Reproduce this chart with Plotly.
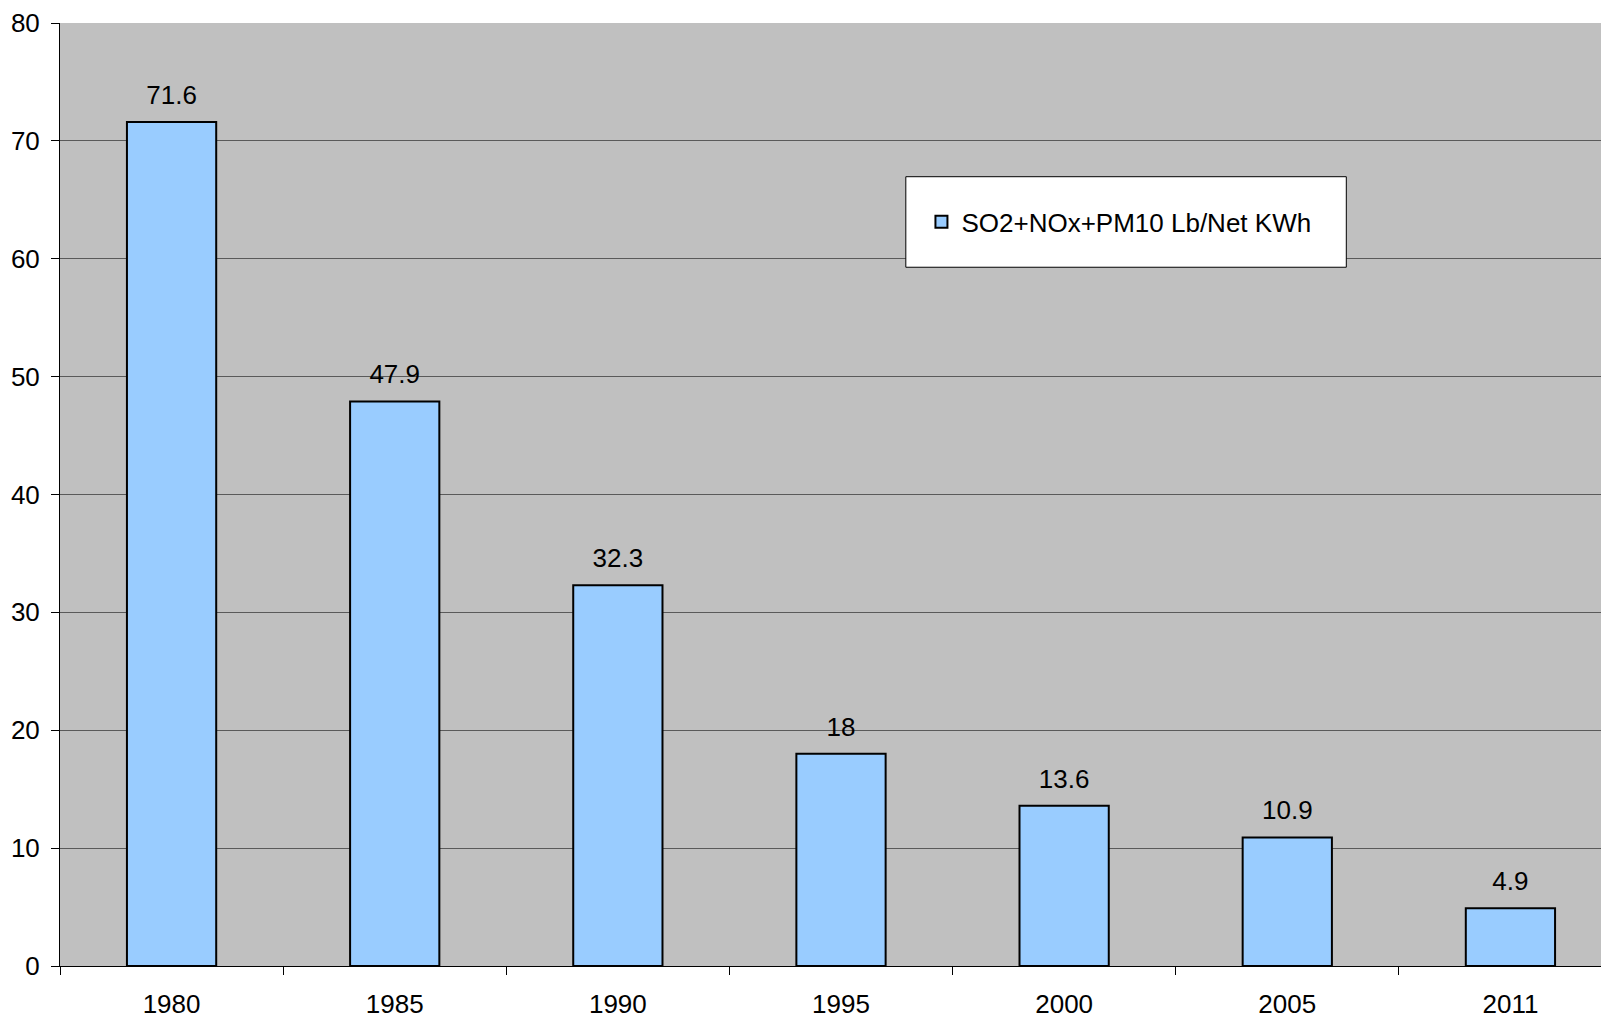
import plotly.graph_objects as go

years = ["1980", "1985", "1990", "1995", "2000", "2005", "2011"]
values = [71.6, 47.9, 32.3, 18, 13.6, 10.9, 4.9]
value_labels = ["71.6", "47.9", "32.3", "18", "13.6", "10.9", "4.9"]
series_name = "SO2+NOx+PM10 Lb/Net KWh"
y_ticks = [0, 10, 20, 30, 40, 50, 60, 70, 80]

FONT = "Liberation Sans, Arial, sans-serif"
FS = 26

fig = go.Figure()
fig.add_trace(go.Bar(
    x=years, y=values, name=series_name,
    marker=dict(color="#99CCFF", line=dict(color="black", width=2)),
))
fig.add_trace(go.Scatter(
    x=years, y=values, mode="markers+text", text=value_labels,
    textposition="top center", showlegend=False, hoverinfo="skip",
    marker=dict(size=17, opacity=0),
    textfont=dict(family=FONT, size=FS, color="black"),
    cliponaxis=False,
))

# plot area: 1562 px wide (extends past the right edge of the window)
fig.update_layout(
    width=1624, height=1018,
    margin=dict(l=52, r=10, t=15, b=60),
    paper_bgcolor="white", plot_bgcolor="#C0C0C0",
    bargap=0.6,
    font=dict(family=FONT, size=FS, color="black"),
    showlegend=True,
    legend=dict(
        x=0.5515, y=0.814, xanchor="left", yanchor="top",
        bgcolor="rgba(0,0,0,0)", borderwidth=0,
        font=dict(family=FONT, size=FS, color="black"),
        itemwidth=30,
    ),
    shapes=[dict(
        type="rect", xref="paper", yref="paper",
        x0=0.5415, x1=0.8235, y0=0.741, y1=0.837,
        fillcolor="white", line=dict(color="black", width=1), layer="above",
    )],
    xaxis=dict(
        type="category", showgrid=False, showline=True, linecolor="black", linewidth=1,
        ticks="outside", tickson="boundaries", ticklen=8, tickcolor="black",
        tickfont=dict(family=FONT, size=FS), ticklabelstandoff=15, automargin=False,
    ),
    yaxis=dict(
        range=[0, 80], tickvals=y_ticks, showgrid=True, gridcolor="#5A5A5A", gridwidth=1,
        showline=True, linecolor="black", linewidth=1, zeroline=False,
        ticks="outside", ticklen=8, tickcolor="black",
        tickfont=dict(family=FONT, size=FS), ticklabelstandoff=6, automargin=False,
    ),
)

fig.write_html("out.html")
